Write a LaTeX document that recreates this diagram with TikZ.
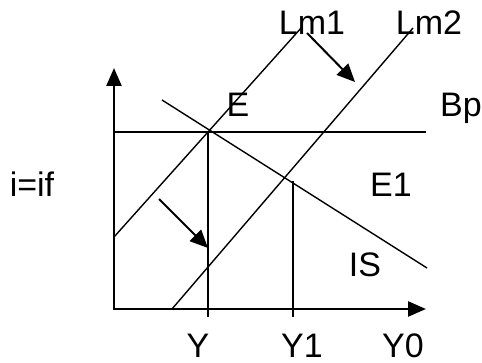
\documentclass[tikz,border=0pt]{standalone}
\usepackage{fontspec}
\setmainfont{Liberation Sans}
\usetikzlibrary{arrows.meta}

\begin{document}
\begin{tikzpicture}[x=1pt,y=-1pt,
    axis/.style={line width=2.5pt,{Triangle[length=18pt,width=15pt]}-{Triangle[length=18pt,width=15pt]}},
    curve/.style={line width=1.4pt},
    shiftarrow/.style={line width=2pt,-{Triangle[length=18pt,width=16pt]}},
    lbl/.style={font=\fontsize{34}{40}\selectfont,inner sep=0pt,anchor=base}]
    \useasboundingbox (0,0) rectangle (482,363);
    % axes
    \coordinate (top) at (114,68);
    \coordinate (origin) at (114,309);
    \coordinate (right) at (426,309);
    \draw[axis] (top) -- (origin) -- (right);
    % curves
    \coordinate (bpL) at (114,132);
    \coordinate (bpR) at (426,132);
    \coordinate (lm1a) at (114,237);
    \coordinate (lm1b) at (302,27);
    \coordinate (lm2a) at (172,309);
    \coordinate (lm2b) at (413,28);
    \coordinate (isa) at (162,100);
    \coordinate (isb) at (427,268);
    \coordinate (E) at (208,132);
    \coordinate (E1) at (293,181);
    \coordinate (yt) at (208,317);
    \coordinate (y1t) at (293,317);
    \draw[curve] (bpL) -- (bpR);
    \draw[curve] (lm1a) -- (lm1b);
    \draw[curve] (lm2a) -- (lm2b);
    \draw[curve] (isa) -- (isb);
    \draw[curve] (E) -- (yt);
    \draw[curve] (E1) -- (y1t);
    % shift arrows
    \coordinate (s1a) at (307,33);
    \coordinate (s1b) at (355,82);
    \coordinate (s2a) at (159,199);
    \coordinate (s2b) at (208,248);
    \draw[shiftarrow] (s1a) -- (s1b);
    \draw[shiftarrow] (s2a) -- (s2b);
    % labels
    \node[lbl] (lLm1) at (312,35) {Lm1};
    \node[lbl] (lLm2) at (429,35) {Lm2};
    \node[lbl] (lE) at (238,117) {E};
    \node[lbl] (lBp) at (461,117) {Bp};
    \node[lbl] (lE1) at (391,197) {E1};
    \node[lbl] (lIS) at (365,277) {IS};
    \node[lbl] (li) at (32,197) {i=if};
    \node[lbl] (lY) at (198,357) {Y};
    \node[lbl] (lY1) at (302,357) {Y1};
    \node[lbl] (lY0) at (403,357) {Y0};
\end{tikzpicture}
\end{document}
